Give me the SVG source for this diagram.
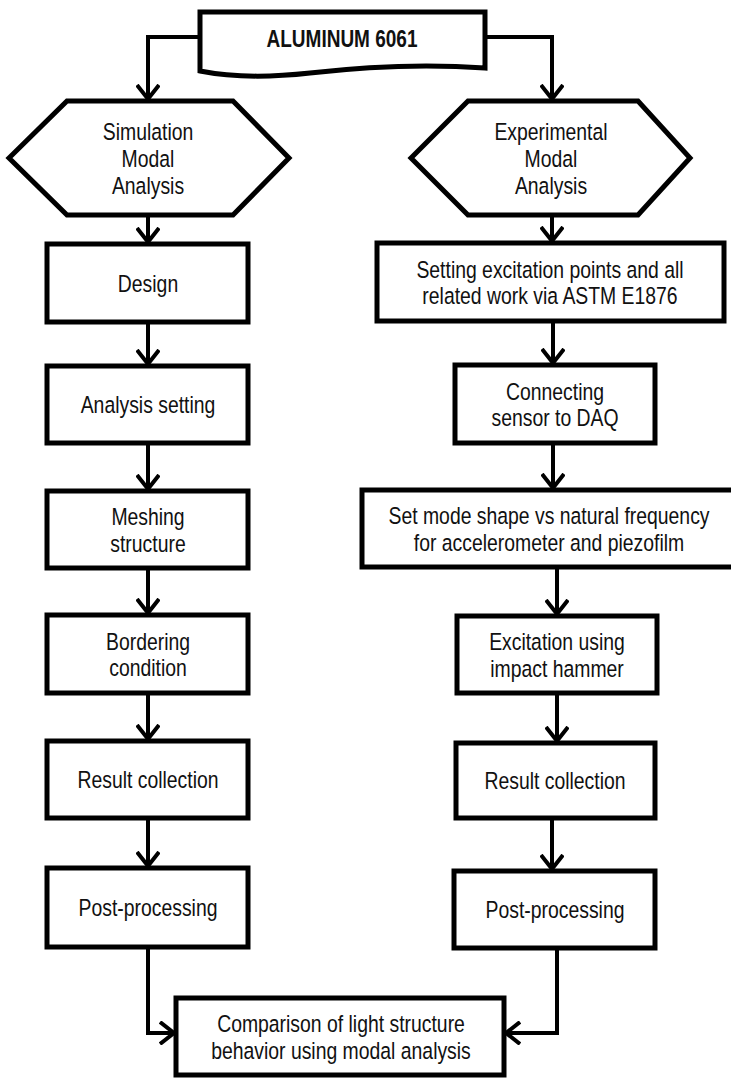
<svg xmlns="http://www.w3.org/2000/svg" width="731" height="1078" viewBox="0 0 731 1078">
<style>
.box{fill:#fff;stroke:#000;stroke-width:5;stroke-linejoin:miter}
.con{fill:none;stroke:#000;stroke-width:4}
.t{font-family:"Liberation Sans",Arial,sans-serif;font-size:19.4px;fill:#111;text-anchor:middle}
.b{font-weight:bold;font-size:19px}
</style>
<defs>
<marker id="ah" viewBox="0 0 16 24" refX="15" refY="12" markerWidth="16" markerHeight="24" markerUnits="userSpaceOnUse" orient="auto">
<path d="M1,1 L15,12 L1,23" fill="none" stroke="#000" stroke-width="4"/>
</marker>
</defs>
<rect width="731" height="1078" fill="#fff"/>
<g id="connectors">
<path class="con" d="M200,37 H148 V99" marker-end="url(#ah)"/>
<path class="con" d="M485,37 H552 V99" marker-end="url(#ah)"/>
<path class="con" d="M148,215 V242" marker-end="url(#ah)"/>
<path class="con" d="M148,322 V364" marker-end="url(#ah)"/>
<path class="con" d="M148,443 V489" marker-end="url(#ah)"/>
<path class="con" d="M148,568 V613" marker-end="url(#ah)"/>
<path class="con" d="M148,693 V739" marker-end="url(#ah)"/>
<path class="con" d="M148,818 V866" marker-end="url(#ah)"/>
<path class="con" d="M148,947 V1033 H174" marker-end="url(#ah)"/>
<path class="con" d="M552,215 V241" marker-end="url(#ah)"/>
<path class="con" d="M553,321 V363" marker-end="url(#ah)"/>
<path class="con" d="M553,443 V488" marker-end="url(#ah)"/>
<path class="con" d="M557,567 V614" marker-end="url(#ah)"/>
<path class="con" d="M557,693 V741" marker-end="url(#ah)"/>
<path class="con" d="M552,818 V869" marker-end="url(#ah)"/>
<path class="con" d="M557,948 V1033 H506" marker-end="url(#ah)"/>
</g>
<g id="aluminum">
<path class="box" d="M200,12 H485 V68 C430,64 370,66 310,73 C265,78 230,77 200,71 Z"/>
<text class="t b" transform="translate(342,47) scale(1,1.28)">ALUMINUM 6061</text>
</g>
<g id="sim_modal">
<polygon class="box" points="9,158 67,101 233,101 289,158 233,215 67,215"/>
<text class="t" transform="translate(148,140) scale(1,1.2)">Simulation</text>
<text class="t" transform="translate(148,167) scale(1,1.2)">Modal</text>
<text class="t" transform="translate(148,194) scale(1,1.2)">Analysis</text>
</g>
<g id="exp_modal">
<polygon class="box" points="411,158 468,101 638,101 690,158 638,215 468,215"/>
<text class="t" transform="translate(551,140) scale(1,1.2)">Experimental</text>
<text class="t" transform="translate(551,167) scale(1,1.2)">Modal</text>
<text class="t" transform="translate(551,194) scale(1,1.2)">Analysis</text>
</g>
<g id="design">
<rect class="box" x="47" y="244" width="201" height="78"/>
<text class="t" transform="translate(148,291.5) scale(1,1.2)">Design</text>
</g>
<g id="analysis_setting">
<rect class="box" x="47" y="366" width="201" height="77"/>
<text class="t" transform="translate(148,413) scale(1,1.2)">Analysis setting</text>
</g>
<g id="meshing">
<rect class="box" x="47" y="491" width="201" height="77"/>
<text class="t" transform="translate(148,525) scale(1,1.2)">Meshing</text>
<text class="t" transform="translate(148,551.5) scale(1,1.2)">structure</text>
</g>
<g id="bordering">
<rect class="box" x="47" y="615" width="201" height="78"/>
<text class="t" transform="translate(148,649.5) scale(1,1.2)">Bordering</text>
<text class="t" transform="translate(148,676) scale(1,1.2)">condition</text>
</g>
<g id="result_sim">
<rect class="box" x="47" y="741" width="201" height="77"/>
<text class="t" transform="translate(148,788) scale(1,1.2)">Result collection</text>
</g>
<g id="post_sim">
<rect class="box" x="47" y="868" width="201" height="79"/>
<text class="t" transform="translate(148,916) scale(1,1.2)">Post-processing</text>
</g>
<g id="setting_excitation">
<rect class="box" x="377" y="243" width="347" height="78"/>
<text class="t" transform="translate(550,277.5) scale(1,1.2)">Setting excitation points and all</text>
<text class="t" transform="translate(550,304) scale(1,1.2)">related work via ASTM E1876</text>
</g>
<g id="connecting">
<rect class="box" x="455" y="365" width="200" height="78"/>
<text class="t" transform="translate(555,399.5) scale(1,1.2)">Connecting</text>
<text class="t" transform="translate(555,426) scale(1,1.2)">sensor to DAQ</text>
</g>
<g id="set_mode">
<rect class="box" x="362" y="490" width="380" height="77"/>
<text class="t" transform="translate(549,524) scale(1,1.2)">Set mode shape vs natural frequency</text>
<text class="t" transform="translate(549,550.5) scale(1,1.2)">for accelerometer and piezofilm</text>
</g>
<g id="excitation">
<rect class="box" x="457" y="616" width="200" height="77"/>
<text class="t" transform="translate(557,650) scale(1,1.2)">Excitation using</text>
<text class="t" transform="translate(557,676.5) scale(1,1.2)">impact hammer</text>
</g>
<g id="result_exp">
<rect class="box" x="456" y="743" width="199" height="75"/>
<text class="t" transform="translate(555,789) scale(1,1.2)">Result collection</text>
</g>
<g id="post_exp">
<rect class="box" x="454" y="871" width="201" height="77"/>
<text class="t" transform="translate(555,918) scale(1,1.2)">Post-processing</text>
</g>
<g id="comparison">
<rect class="box" x="176" y="998" width="328" height="77"/>
<text class="t" transform="translate(341,1032) scale(1,1.2)">Comparison of light structure</text>
<text class="t" transform="translate(341,1059) scale(1,1.2)">behavior using modal analysis</text>
</g>
</svg>
